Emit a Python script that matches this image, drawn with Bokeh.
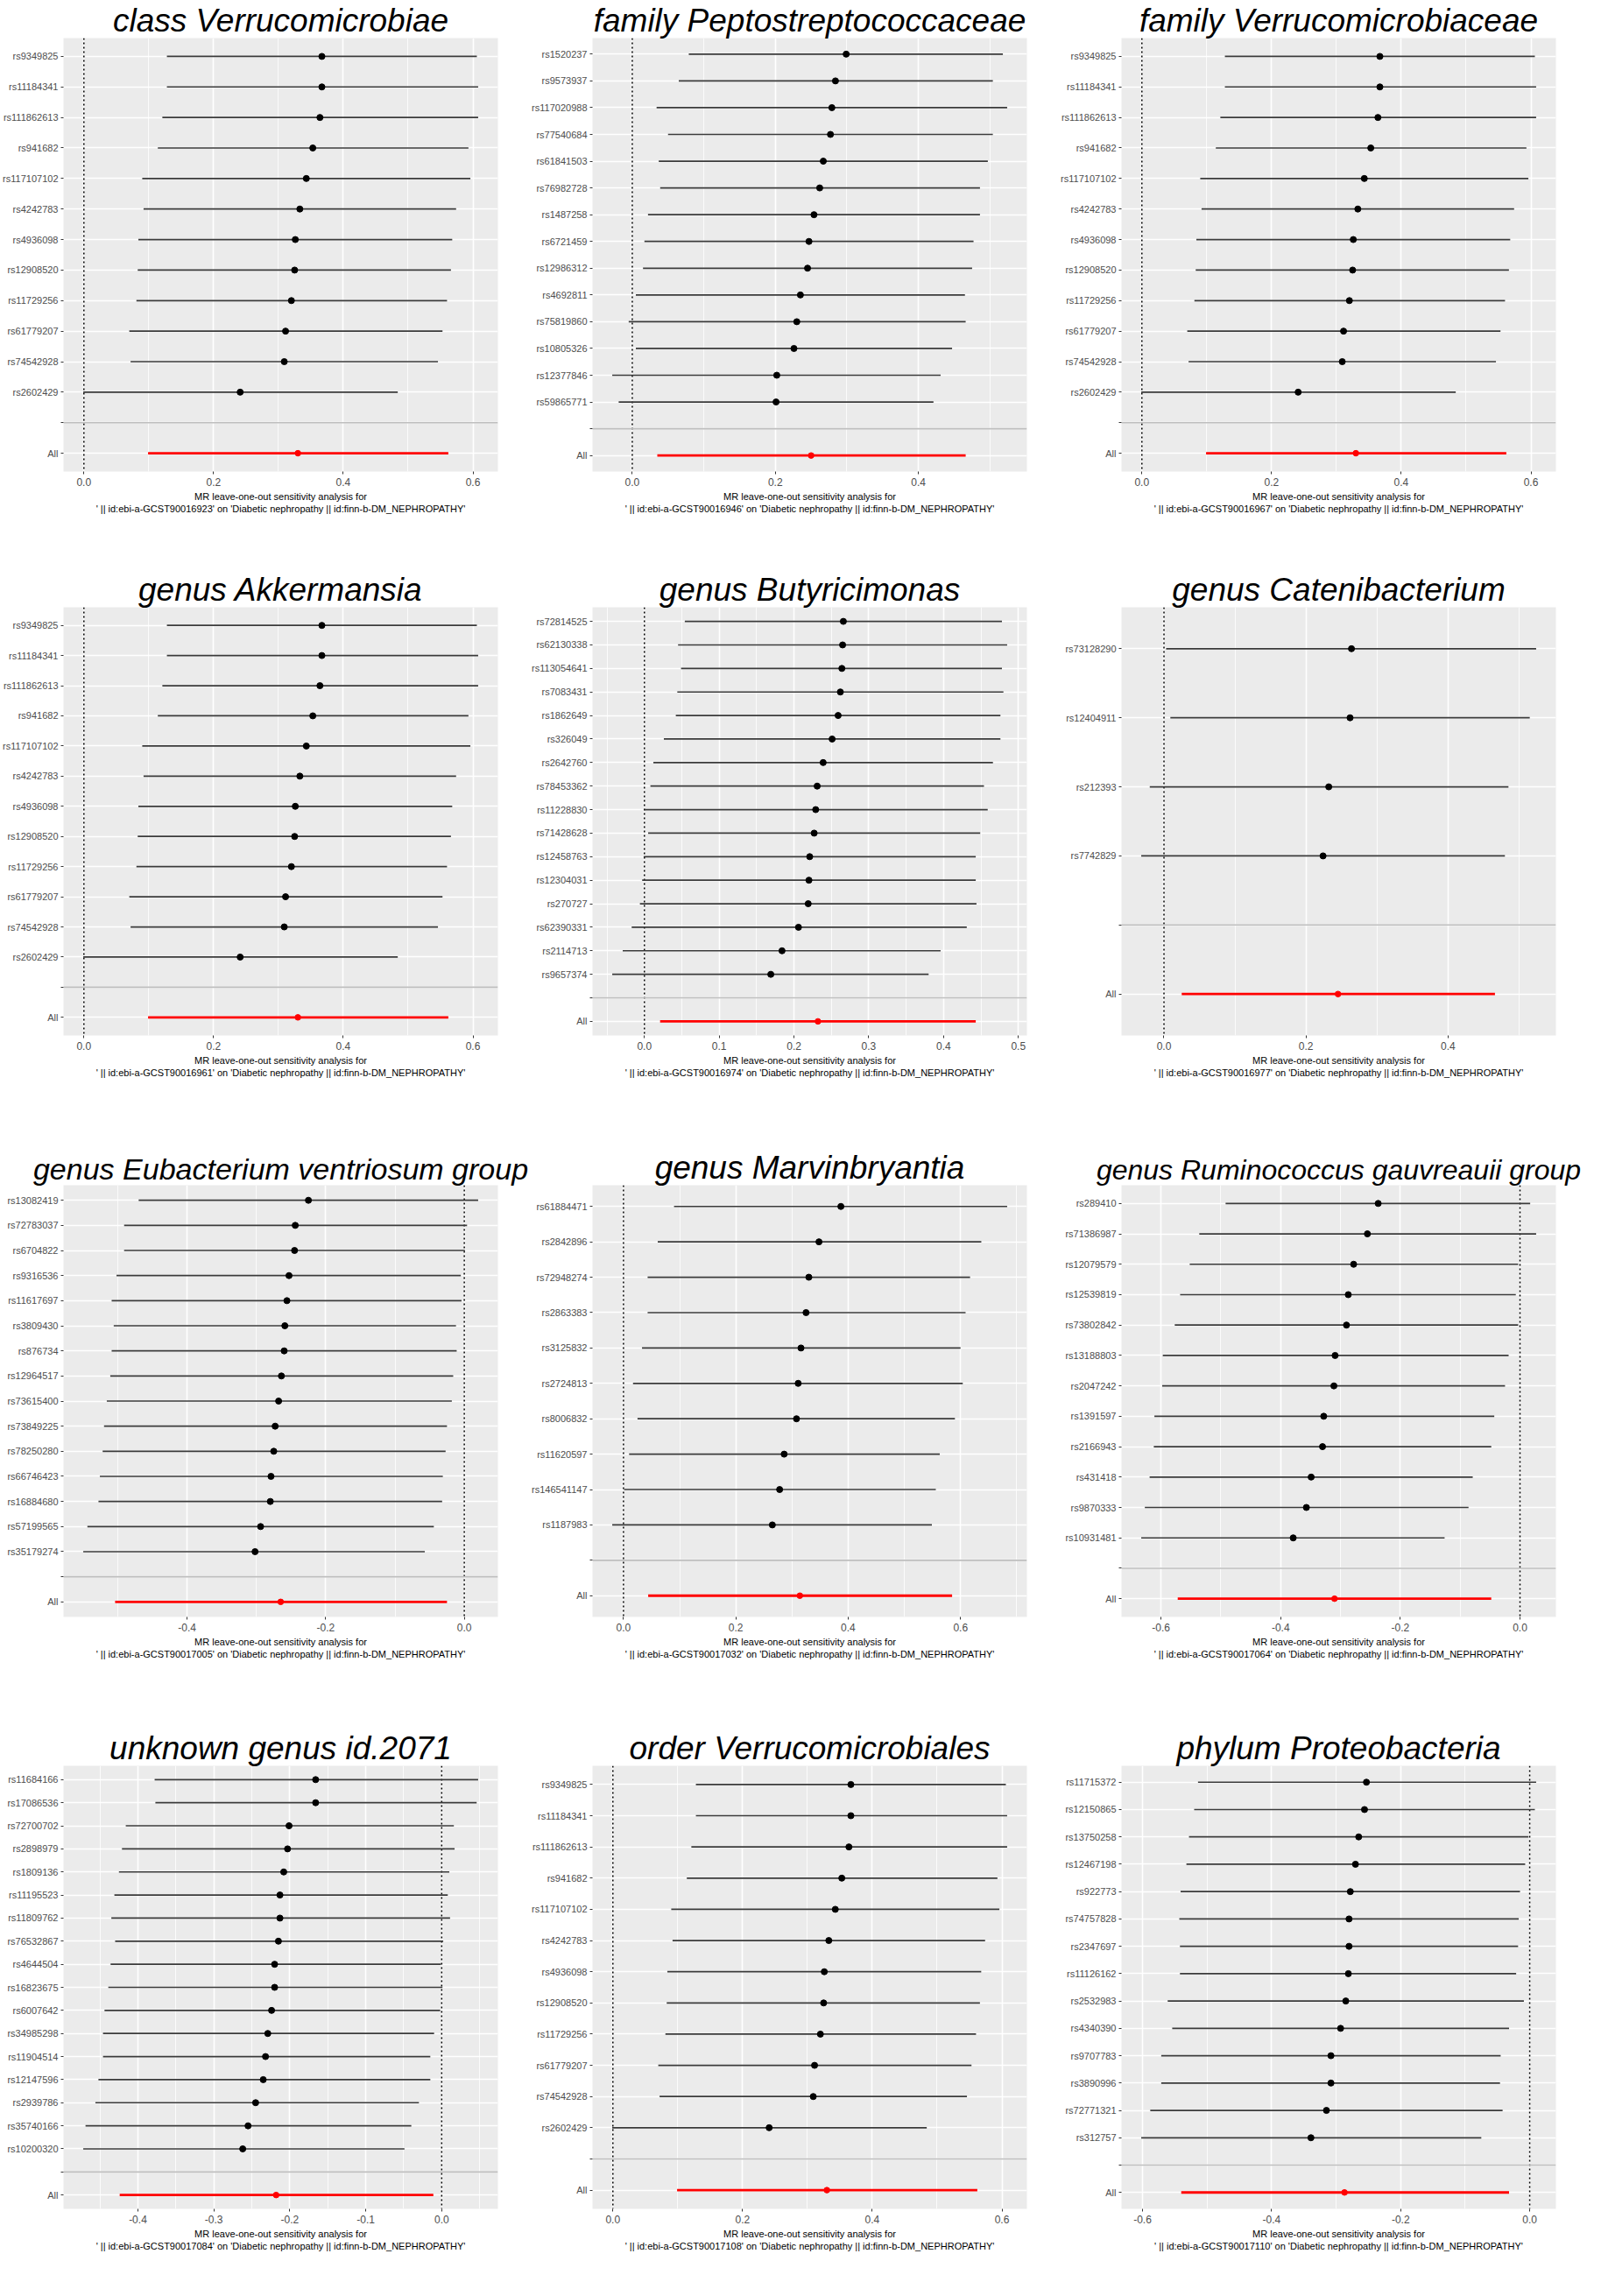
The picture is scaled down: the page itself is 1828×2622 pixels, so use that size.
import math
from bokeh.plotting import figure
from bokeh.layouts import gridplot
from bokeh.models import FactorRange, Range1d, FixedTicker, PrintfTickFormatter, Span
from bokeh.embed import file_html
from bokeh.resources import INLINE

FONT = "Liberation Sans"

# ---------------- data (beta, lower CI, upper CI) ----------------
# Verrucomicrobia-related traits share the same instruments
verr_snp = ["rs9349825", "rs11184341", "rs111862613", "rs941682", "rs117107102", "rs4242783",
            "rs4936098", "rs12908520", "rs11729256", "rs61779207", "rs74542928", "rs2602429"]
verr_b = [0.367, 0.367, 0.364, 0.353, 0.343, 0.333, 0.326, 0.325, 0.320, 0.311, 0.309, 0.241]
verr_lo = [0.128, 0.128, 0.121, 0.114, 0.090, 0.092, 0.084, 0.083, 0.081, 0.070, 0.072, -0.001]
verr_hi = [0.606, 0.608, 0.608, 0.593, 0.596, 0.574, 0.568, 0.566, 0.560, 0.553, 0.546, 0.484]
verr_all = [0.330, 0.099, 0.562]

pep_snp = ["rs1520237", "rs9573937", "rs117020988", "rs77540684", "rs61841503", "rs76982728",
           "rs1487258", "rs6721459", "rs12986312", "rs4692811", "rs75819860", "rs10805326",
           "rs12377846", "rs59865771"]
pep_b = [0.299, 0.284, 0.279, 0.277, 0.267, 0.262, 0.254, 0.247, 0.245, 0.235, 0.230, 0.226, 0.202, 0.201]
pep_lo = [0.079, 0.065, 0.034, 0.050, 0.037, 0.039, 0.022, 0.017, 0.015, 0.005, -0.005, 0.005, -0.028, -0.019]
pep_hi = [0.518, 0.504, 0.524, 0.504, 0.497, 0.486, 0.486, 0.477, 0.475, 0.465, 0.466, 0.447, 0.431, 0.421]
pep_all = [0.250, 0.035, 0.466]

but_snp = ["rs72814525", "rs62130338", "rs113054641", "rs7083431", "rs1862649", "rs326049",
           "rs2642760", "rs78453362", "rs11228830", "rs71428628", "rs12458763", "rs12304031",
           "rs270727", "rs62390331", "rs2114713", "rs9657374"]
but_b = [0.266, 0.265, 0.264, 0.262, 0.259, 0.251, 0.239, 0.231, 0.229, 0.227, 0.221, 0.220, 0.219, 0.206, 0.184, 0.169]
but_lo = [0.054, 0.045, 0.049, 0.044, 0.042, 0.026, 0.012, 0.008, 0.000, 0.005, -0.001, -0.003, -0.006, -0.017, -0.029, -0.043]
but_hi = [0.478, 0.485, 0.478, 0.480, 0.476, 0.476, 0.466, 0.454, 0.459, 0.449, 0.443, 0.443, 0.444, 0.431, 0.396, 0.380]
but_all = [0.232, 0.021, 0.443]

cat_snp = ["rs73128290", "rs12404911", "rs212393", "rs7742829"]
cat_b = [0.264, 0.262, 0.232, 0.224]
cat_lo = [0.003, 0.009, -0.020, -0.032]
cat_hi = [0.524, 0.515, 0.485, 0.480]
cat_all = [0.245, 0.025, 0.466]

eub_snp = ["rs13082419", "rs72783037", "rs6704822", "rs9316536", "rs11617697", "rs3809430",
           "rs876734", "rs12964517", "rs73615400", "rs73849225", "rs78250280", "rs66746423",
           "rs16884680", "rs57199565", "rs35179274"]
eub_b = [-0.225, -0.244, -0.245, -0.253, -0.256, -0.259, -0.260, -0.264, -0.268, -0.273, -0.275, -0.279, -0.280, -0.294, -0.302]
eub_lo = [-0.470, -0.491, -0.491, -0.502, -0.509, -0.506, -0.509, -0.511, -0.516, -0.520, -0.522, -0.526, -0.528, -0.544, -0.550]
eub_hi = [0.020, 0.004, 0.001, -0.005, -0.004, -0.012, -0.011, -0.016, -0.018, -0.025, -0.027, -0.031, -0.032, -0.044, -0.057]
eub_all = [-0.265, -0.504, -0.025]

mar_snp = ["rs61884471", "rs2842896", "rs72948274", "rs2863383", "rs3125832", "rs2724813",
           "rs8006832", "rs11620597", "rs146541147", "rs1187983"]
mar_b = [0.387, 0.348, 0.330, 0.325, 0.316, 0.311, 0.308, 0.286, 0.278, 0.265]
mar_lo = [0.090, 0.061, 0.043, 0.043, 0.033, 0.017, 0.025, 0.010, 0.001, -0.020]
mar_hi = [0.683, 0.637, 0.617, 0.609, 0.600, 0.604, 0.590, 0.563, 0.556, 0.549]
mar_all = [0.314, 0.044, 0.585]

rum_snp = ["rs289410", "rs71386987", "rs12079579", "rs12539819", "rs73802842", "rs13188803",
           "rs2047242", "rs1391597", "rs2166943", "rs431418", "rs9870333", "rs10931481"]
rum_b = [-0.237, -0.255, -0.278, -0.287, -0.290, -0.309, -0.311, -0.328, -0.330, -0.349, -0.357, -0.379]
rum_lo = [-0.492, -0.536, -0.552, -0.568, -0.577, -0.597, -0.598, -0.611, -0.612, -0.619, -0.627, -0.633]
rum_hi = [0.017, 0.027, -0.003, -0.007, -0.003, -0.019, -0.025, -0.043, -0.048, -0.079, -0.086, -0.126]
rum_all = [-0.310, -0.572, -0.048]

unk_snp = ["rs11684166", "rs17086536", "rs72700702", "rs2898979", "rs1809136", "rs11195523",
           "rs11809762", "rs76532867", "rs4644504", "rs16823675", "rs6007642", "rs34985298",
           "rs11904514", "rs12147596", "rs2939786", "rs35740166", "rs10200320"]
unk_b = [-0.166, -0.166, -0.201, -0.203, -0.208, -0.213, -0.213, -0.215, -0.220, -0.220, -0.224, -0.229, -0.232, -0.235, -0.245, -0.255, -0.262]
unk_lo = [-0.378, -0.377, -0.416, -0.421, -0.425, -0.431, -0.435, -0.430, -0.436, -0.439, -0.444, -0.446, -0.446, -0.452, -0.456, -0.469, -0.472]
unk_hi = [0.048, 0.046, 0.016, 0.017, 0.010, 0.008, 0.011, 0.002, -0.001, 0.001, -0.002, -0.010, -0.015, -0.015, -0.030, -0.040, -0.049]
unk_all = [-0.218, -0.424, -0.011]

pro_snp = ["rs11715372", "rs12150865", "rs13750258", "rs12467198", "rs922773", "rs74757828",
           "rs2347697", "rs11126162", "rs2532983", "rs4340390", "rs9707783", "rs3890996",
           "rs72771321", "rs312757"]
pro_b = [-0.253, -0.256, -0.265, -0.270, -0.278, -0.280, -0.280, -0.281, -0.285, -0.293, -0.308, -0.308, -0.315, -0.339]
pro_lo = [-0.514, -0.520, -0.528, -0.532, -0.541, -0.543, -0.542, -0.542, -0.561, -0.554, -0.571, -0.571, -0.588, -0.602]
pro_hi = [0.010, 0.008, -0.002, -0.007, -0.015, -0.017, -0.018, -0.021, -0.009, -0.032, -0.045, -0.046, -0.042, -0.075]
pro_all = [-0.287, -0.540, -0.032]

titles = ["class Verrucomicrobiae", "family Peptostreptococcaceae", "family Verrucomicrobiaceae",
          "genus Akkermansia", "genus Butyricimonas", "genus Catenibacterium",
          "genus Eubacterium ventriosum group", "genus Marvinbryantia", "genus Ruminococcus gauvreauii group",
          "unknown genus id.2071", "order Verrucomicrobiales", "phylum Proteobacteria"]
gcst_ids = ["GCST90016923", "GCST90016946", "GCST90016967", "GCST90016961", "GCST90016974", "GCST90016977",
            "GCST90017005", "GCST90017032", "GCST90017064", "GCST90017084", "GCST90017108", "GCST90017110"]
panel_data = [
    (verr_snp, verr_b, verr_lo, verr_hi, verr_all),
    (pep_snp, pep_b, pep_lo, pep_hi, pep_all),
    (verr_snp, verr_b, verr_lo, verr_hi, verr_all),
    (verr_snp, verr_b, verr_lo, verr_hi, verr_all),
    (but_snp, but_b, but_lo, but_hi, but_all),
    (cat_snp, cat_b, cat_lo, cat_hi, cat_all),
    (eub_snp, eub_b, eub_lo, eub_hi, eub_all),
    (mar_snp, mar_b, mar_lo, mar_hi, mar_all),
    (rum_snp, rum_b, rum_lo, rum_hi, rum_all),
    (unk_snp, unk_b, unk_lo, unk_hi, unk_all),
    (verr_snp, verr_b, verr_lo, verr_hi, verr_all),
    (pro_snp, pro_b, pro_lo, pro_hi, pro_all),
]

# ---------------- styling / layout ----------------
tick_steps = [0.2, 0.2, 0.2, 0.2, 0.1, 0.2, 0.2, 0.2, 0.2, 0.1, 0.2, 0.2]
title_sizes = ["37px"] * 12
title_sizes[6] = "34px"
title_sizes[8] = "32px"
FIG_W = 604
row_specs = [(650, 42, 112), (660, 38, 128), (660, 37, 124), (636, 46, 84)]


def clean(v):
    v = round(v, 4)
    return 0.0 if abs(v) < 1e-9 else v


def make_panel(i, height, top, bottom):
    snps, b, lo, hi, allv = panel_data[i]
    all_b, all_lo, all_hi = allv
    xmin = min(min(lo), all_lo, 0.0)
    xmax = max(max(hi), all_hi, 0.0)
    span = xmax - xmin
    xs, xe = xmin - 0.05 * span, xmax + 0.05 * span

    factors = ["All", " "] + list(reversed(snps))
    yr = FactorRange(factors=factors, range_padding=0.1, range_padding_units="absolute")
    p = figure(width=FIG_W, height=height, x_range=Range1d(xs, xe), y_range=yr,
               output_backend="svg", toolbar_location=None,
               min_border_left=70, min_border_right=36, min_border_top=top, min_border_bottom=bottom)
    p.background_fill_color = "#EBEBEB"
    p.border_fill_color = "white"
    p.outline_line_color = None

    step = tick_steps[i]
    k0 = math.ceil(xs / step)
    k1 = math.floor(xe / step)
    ticks = [clean(k * step) for k in range(k0, k1 + 1) if xs <= k * step <= xe]
    minors = [clean((k + 0.5) * step) for k in range(k0 - 1, k1 + 1) if xs <= (k + 0.5) * step <= xe]
    p.xaxis.ticker = FixedTicker(ticks=ticks, minor_ticks=minors)
    p.xaxis.formatter = PrintfTickFormatter(format="%.1f")

    p.xgrid.grid_line_color = "white"
    p.xgrid.grid_line_width = 1.6
    p.xgrid.minor_grid_line_color = "white"
    p.xgrid.minor_grid_line_width = 0.8
    p.ygrid.grid_line_color = "white"
    p.ygrid.grid_line_width = 1.6

    for ax in (p.xaxis, p.yaxis):
        ax.axis_line_color = None
        ax.major_tick_line_color = "#333333"
        ax.major_tick_out = 3
        ax.major_tick_in = 0
        ax.minor_tick_line_color = None
        ax.major_label_text_font = FONT
        ax.major_label_text_color = "#4D4D4D"
        ax.major_label_standoff = 3
    p.xaxis.major_label_text_font_size = "12px"
    p.yaxis.major_label_text_font_size = "11px"

    p.xaxis.axis_label = ("MR leave-one-out sensitivity analysis for\n"
                          f"' || id:ebi-a-{gcst_ids[i]}' on 'Diabetic nephropathy || id:finn-b-DM_NEPHROPATHY'")
    p.xaxis.axis_label_text_font = FONT
    p.xaxis.axis_label_text_font_size = "11px"
    p.xaxis.axis_label_text_font_style = "normal"
    p.xaxis.axis_label_text_color = "black"
    p.xaxis.axis_label_standoff = 3

    p.title.text = titles[i]
    p.title.text_font = FONT
    p.title.text_font_style = "italic"
    p.title.text_font_size = title_sizes[i]
    p.title.text_color = "black"
    p.title.align = "center"
    p.title.standoff = 0

    # separator line for the blank row
    p.segment(x0=[xs], x1=[xe], y0=[" "], y1=[" "], line_color="#BEBEBE", line_width=1.6)
    # vertical null line
    p.add_layout(Span(location=0, dimension="height", line_color="black", line_width=1.5,
                      line_dash="2 3", level="underlay"))
    # leave-one-out estimates
    p.segment(x0=lo, x1=hi, y0=snps, y1=snps, line_color="#3A3A3A", line_width=1.7)
    p.scatter(x=b, y=snps, size=7, color="black")
    # all-SNP estimate
    p.segment(x0=[all_lo], x1=[all_hi], y0=["All"], y1=["All"], line_color="#FF0000", line_width=2.8)
    p.scatter(x=[all_b], y=["All"], size=6.5, color="#FF0000")
    return p


rows = []
idx = 0
for (h, top, bottom) in row_specs:
    r = []
    for c in range(3):
        r.append(make_panel(idx, h, top, bottom))
        idx += 1
    rows.append(r)

grid = gridplot(rows, toolbar_location=None)
open("out.html", "w").write(file_html(grid, INLINE))
